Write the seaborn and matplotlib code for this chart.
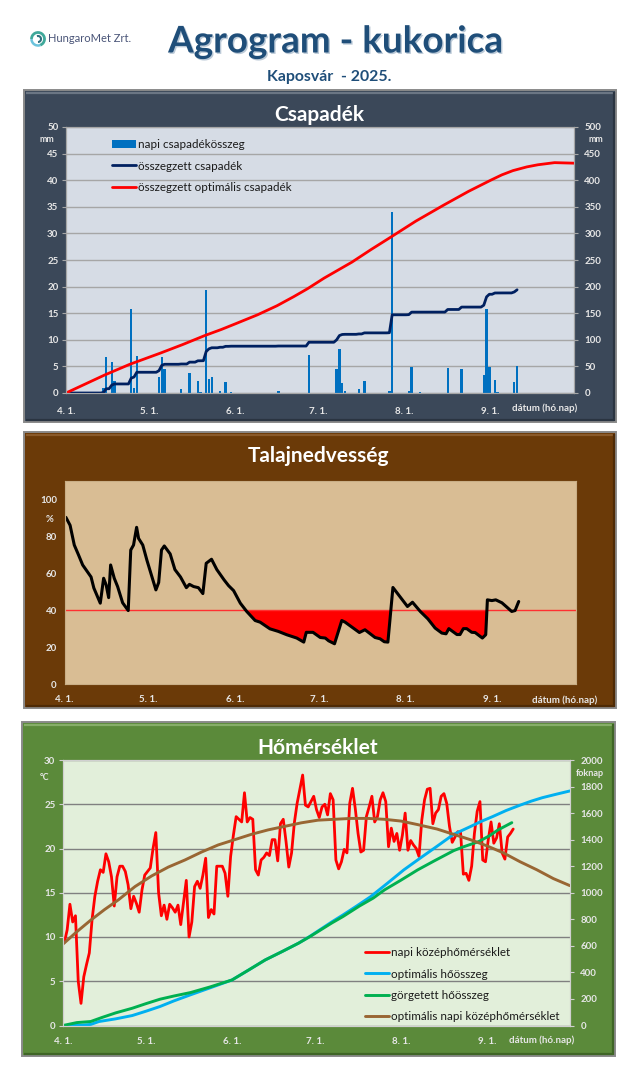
"""Agrogram dashboard: rainfall, soil moisture and temperature panels."""

import numpy as np
import pandas as pd
import matplotlib
matplotlib.use("Agg")
import matplotlib.pyplot as plt
import matplotlib.patheffects as pe
from matplotlib.patches import Rectangle, Arc
import seaborn as sns

# days counted from April 1
month_days = [0, 30, 61, 91, 122, 153, 183]
month_labels = ["4. 1.", "5. 1.", "6. 1.", "7. 1.", "8. 1.", "9. 1.", ""]
last_day = 163

rain_days = [13, 14, 16, 17, 23, 24, 25, 33, 34, 35, 41, 44, 47, 48, 50, 51, 52, 55, 57, 59, 76, 87,
             97, 98, 99, 100, 105, 107, 116, 117, 123, 124, 127, 137, 142, 150, 151, 152, 154, 155, 161, 162]
rain_values = [1.0, 6.8, 5.9, 2.2, 15.7, 1.0, 7.0, 3.0, 6.8, 4.5, 0.8, 3.8, 2.3, 0.2, 19.4, 2.6, 3.1, 0.3, 2.1, 0.2, 0.3, 7.1,
               4.5, 8.3, 1.9, 0.3, 0.8, 2.2, 0.3, 34.0, 0.3, 4.9, 0.1, 4.7, 4.5, 3.3, 15.7, 4.9, 2.5, 0.1, 2.0, 5.0]
rain_sum_values = [1, 8, 15, 17, 28, 30, 39, 42, 52, 54, 54.5, 58, 60.5, 60.7, 78, 83, 85, 86, 87.7, 88, 88.3, 95.4,
                   100, 108, 110, 110.3, 111, 113, 113.3, 147, 147.3, 152, 152.1, 157, 161.5, 165, 180.7, 185.6, 188, 188.1, 190, 194]

opt_rain_days = [0, 7, 14, 23, 34, 42, 50, 56, 61, 69, 76, 82, 87, 93, 99, 103, 110, 117, 126, 136, 145, 153, 157, 161, 166, 170, 173, 176, 183]
opt_rain_values = [0, 17, 34, 54, 75, 91, 108, 119.5, 130, 147, 164, 181, 196, 216, 234, 246, 270, 293, 323, 353, 379, 400, 410, 418, 425, 429, 431, 433, 432]

soil_days = [0, 1.5, 3, 4.5, 6, 9, 10, 12.3, 13.5, 14.4, 15.3, 16, 17.3, 18.5, 20.3, 22.3, 23.2, 24.2, 25.3, 26,
             27.5, 29, 32.2, 33.2, 34.2, 35.2, 37.3, 39, 41, 43.1, 44.2, 45.7, 47.4, 49, 50.2, 52.1, 54, 56.6, 58.2, 60,
             62.4, 64.7, 67.7, 69.5, 73, 76, 79, 82.6, 85.1, 86, 88.4, 91, 92.8, 94, 96.1, 98.7, 99.9, 105, 107, 110.6,
             112.4, 113.9, 115.2, 117, 122.2, 124, 126.8, 129.5, 132.1, 134.5, 136, 137, 139.9, 141, 142.2, 143.4, 145.2, 146.4, 149, 150.2,
             150.8, 152.4, 153.8, 156, 157.8, 159.5, 160.7, 162]
soil_values = [90.3, 86, 75.3, 70, 64.5, 58, 52, 43.8, 57.3, 53.7, 46.8, 64.5, 57.3, 52.8, 44, 39.8, 72.6, 75.3, 84.9, 78.9,
               75.3, 67, 51, 55, 72.6, 74.8, 70.5, 62, 58, 52.2, 54, 52.8, 52.2, 49, 65.4, 67.6, 62, 56.4, 53.3, 50.6,
               43.8, 39.3, 34.4, 33.5, 29.9, 28.5, 26.7, 24.9, 22.7, 28, 28, 25.2, 24.9, 23.4, 21.8, 34.4, 33.5, 27.9, 29.4, 25.2,
               24.5, 22.9, 22.7, 52.3, 42, 44.3, 39.3, 35.3, 30.3, 27.6, 27.2, 30, 26.8, 26.8, 30, 30, 28, 27.9, 24.9, 26.7,
               45.6, 45.2, 45.6, 44, 41.6, 39.3, 39.8, 44.7]
soil_limit = 40

# daily mean temperature, one value per day from April 1
temp_values = [9.4, 10.8, 13.7, 11.7, 12.4, 5, 2.5, 5.5, 6.9, 8.2, 12, 14.6, 16.3, 17.6, 17.3, 19.4, 18.5, 16.8, 13.5, 16.8,
               18, 18, 17.4, 15.9, 13.2, 14.6, 13.8, 12.8, 15.3, 17, 17.4, 17.8, 20, 21.8, 15, 12.4, 13.6, 12, 13.7, 13.3,
               12.8, 13.6, 11.4, 13.9, 16.4, 10, 11.7, 15.7, 16.3, 15.5, 17, 18.9, 12.2, 13.1, 12.6, 18, 18, 18, 17.2, 14.6,
               19.1, 21.5, 23.6, 23.3, 23, 26.3, 23, 23.5, 23.3, 17.6, 17, 18.7, 19, 19.5, 19.2, 21, 21, 18.6, 22.8, 23.3,
               20.8, 17.9, 19.5, 22.9, 25.1, 26.7, 28.3, 24.9, 24.7, 25.3, 25.9, 24.4, 23.5, 24.7, 25, 23.8, 26.2, 25.5, 18.7, 17.7,
               18.5, 19.9, 19.5, 25.1, 26.8, 24.5, 21.7, 19.6, 19.8, 23.6, 24.7, 25.9, 23, 23.6, 25.5, 26.3, 25.3, 20.2, 22.3, 20.8,
               21.7, 19.8, 21.5, 24, 19.8, 20.9, 20.4, 20, 19.1, 23.2, 25.5, 26.7, 26.8, 22.8, 24, 24.4, 25.9, 26.2, 25.1, 22.5,
               20.7, 21.3, 21.9, 21.8, 17.1, 17.2, 16.4, 18, 21.7, 24.2, 25.3, 18.7, 18.5, 21, 23, 20.6, 21.2, 22.8, 19.5, 18.8,
               21.3, 21.7, 22.2]

opt_temp_days = [0, 5, 10, 15, 20, 26, 32, 38, 44, 50, 56, 62, 68, 74, 80, 86, 92, 98, 104, 110, 116, 122, 128, 135, 141, 147, 153, 159, 165, 171, 177, 183]
opt_temp_values = [9.2, 10.6, 11.9, 13.1, 14.2, 15.7, 16.9, 17.9, 18.7, 19.6, 20.4, 21, 21.6, 22.1, 22.5, 22.9, 23.2, 23.3, 23.4, 23.4, 23.3, 23.1, 22.7, 22.2, 21.6, 21, 20.3, 19.5, 18.5, 17.6, 16.6, 15.8]

opt_gdd_days = [0, 7, 10, 13, 19, 25, 30, 35, 40, 46, 53, 61, 67, 73, 79, 85, 89, 93, 97, 101, 106, 111, 117, 123, 129, 135, 141, 147, 151, 155, 160, 165, 169, 173, 178, 183]
opt_gdd_values = [0, 3, 8, 30, 50, 75, 108, 143, 185, 231, 283, 343, 418, 494, 556, 620, 670, 725, 780, 832, 900, 970, 1070, 1172, 1262, 1350, 1440, 1498, 1538, 1573, 1620, 1660, 1690, 1716, 1742, 1767]
sum_gdd_days = [0, 5, 10, 14, 19, 25, 30, 35, 40, 46, 53, 61, 67, 73, 79, 85, 89, 93, 97, 101, 107, 112, 116, 122, 128, 134, 141, 144, 150, 154, 157, 162]
sum_gdd_values = [0, 22, 30, 60, 95, 130, 165, 198, 222, 248, 290, 343, 418, 494, 556, 620, 668, 720, 772, 820, 900, 960, 1021, 1095, 1172, 1240, 1317, 1342, 1385, 1430, 1473, 1528]

WIDTH, HEIGHT = 640, 1077
FONT = "Lato"
TITLE_BLUE = "#1F4E79"
TICK_TEXT = "#E6E6E6"

sns.set_theme(style="white")
plt.rcParams["font.family"] = [FONT, "DejaVu Sans"]

fig = plt.figure(figsize=(WIDTH / 100, HEIGHT / 100), dpi=100, facecolor="white")

# overlay in pixel coordinates for the panel frames and headings
page = fig.add_axes([0, 0, 1, 1], zorder=-1)
page.set_xlim(0, WIDTH)
page.set_ylim(HEIGHT, 0)
page.axis("off")


def px_axes(left, top, right, bottom):
    return fig.add_axes([left / WIDTH, 1 - bottom / HEIGHT, (right - left) / WIDTH, (bottom - top) / HEIGHT])


def panel_frame(left, top, right, bottom, color, light, dark, title, title_y):
    page.add_patch(Rectangle((left, top), right - left, bottom - top, facecolor=color, edgecolor="#8A8A8A", lw=1.4))
    # bevel along the inner edge
    page.plot([left + 2, right - 2], [top + 3, top + 3], color=light, lw=1.6, solid_capstyle="butt")
    page.plot([right - 2, right - 2], [top + 2, bottom - 1], color=dark, lw=1.6, solid_capstyle="butt")
    page.plot([left + 2, right - 2], [bottom - 2, bottom - 2], color=dark, lw=1.6, solid_capstyle="butt")
    page.text((left + right) / 2 - 1, title_y, title, color="white", fontsize=15, fontweight="bold",
              ha="center", va="center")


def style_axes(ax, face, line_color, grid_color=None, y_pad=2.5):
    ax.set_facecolor(face)
    ax.set_xlim(0, 183)
    ax.set_xticks(month_days, month_labels)
    ax.set_xlabel("")
    ax.set_ylabel("")
    ax.tick_params(axis="both", length=3, width=0.8, color=line_color, labelcolor=TICK_TEXT, labelsize=7.0)
    ax.tick_params(axis="y", pad=y_pad)
    for label in ax.get_xticklabels() + ax.get_yticklabels():
        label.set_fontweight("bold")
    for spine in ax.spines.values():
        spine.set_color(line_color)
        spine.set_linewidth(0.8)
    if grid_color:
        ax.yaxis.grid(True, color=grid_color, lw=1.0)
        ax.set_axisbelow(True)


def note(x, y, text, size=6.8):
    page.text(x, y, text, color=TICK_TEXT, fontsize=size, fontweight="bold", ha="center", va="center")


def combined_legend(target, axes, x, y):
    handles, labels = [], []
    for one in axes:
        h, l = one.get_legend_handles_labels()
        handles += h
        labels += l
    target.legend(handles, labels, loc="upper left", bbox_to_anchor=(x / WIDTH, 1 - y / HEIGHT),
                  bbox_transform=fig.transFigure, frameon=False, fontsize=8.4, labelcolor="#1A1A1A", borderpad=0,
                  borderaxespad=0, handlelength=2.05, handletextpad=0.2, labelspacing=0.9)


# ---- heading ----
title = page.text(335, 42, "Agrogram - kukorica", color=TITLE_BLUE, fontsize=26.5, fontweight="bold",
                  ha="center", va="center")
title.set_path_effects([pe.withSimplePatchShadow(offset=(1, -1), shadow_rgbFace="#9FB3C6", alpha=0.7)])
page.text(329, 77, "Kaposvár  - 2025.", color=TITLE_BLUE, fontsize=11.4, fontweight="bold", ha="center", va="center")
page.text(48, 39, "HungaroMet Zrt.", color="#4A5578", fontsize=8.0, ha="left", va="center")
page.add_patch(Arc((38, 39), 13, 13, theta1=180, theta2=70, color="#3FA89A", lw=2.0))
page.add_patch(Arc((38, 39), 13, 13, theta1=70, theta2=180, color="#6CC3DC", lw=1.8))
page.add_patch(Arc((38, 39), 6, 6, theta1=250, theta2=90, color="#2F6F7F", lw=1.5))

# ---- rainfall ----
panel_frame(24, 90, 616, 422, "#3B4859", "#6B7684", "#2A3441", "Csapadék", 115)
rain_ax = px_axes(66, 127, 574, 393)
rain_right = rain_ax.twinx()

days = np.arange(last_day)
rain_df = pd.DataFrame({"day": days + 0.5})
rain_df["rain"] = pd.Series(rain_values, index=rain_days).reindex(days, fill_value=0).values
running = pd.Series(rain_sum_values, index=rain_days).reindex(days).ffill().fillna(0)
rain_df["total"] = running.values

sns.barplot(data=rain_df, x="day", y="rain", native_scale=True, color="#0070C0", saturation=1, width=0.85,
            errorbar=None, ax=rain_ax, label="napi csapadékösszeg", linewidth=0)
sns.lineplot(data=rain_df, x="day", y="total", color="#002060", lw=2.0, estimator=None, ax=rain_right,
             label="összegzett csapadék")
sns.lineplot(x=opt_rain_days, y=opt_rain_values, color="#FF0000", lw=2.0, estimator=None, ax=rain_right,
             label="összegzett optimális csapadék")

rain_ax.set_ylim(0, 50)
rain_ax.set_yticks(range(0, 51, 5))
rain_right.set_ylim(0, 500)
rain_right.set_yticks(range(0, 501, 50))
style_axes(rain_ax, "#D6DCE5", "#A6A6A6", "#A6A6A6")
style_axes(rain_right, "#D6DCE5", "#A6A6A6", y_pad=4.5)
rain_ax.tick_params(axis="x", pad=7)
rain_right.tick_params(axis="x", pad=7)

combined_legend(rain_right, [rain_ax, rain_right], 112, 139)
if rain_ax.get_legend():
    rain_ax.get_legend().remove()
note(47, 140, "mm", 6.4)
note(596, 140, "mm", 6.4)
note(545, 408, "dátum (hó.nap)", 7.1)

# ---- soil moisture ----
panel_frame(24, 432, 616, 708, "#6B3A08", "#8A5A2A", "#4E2A05", "Talajnedvesség", 456)
soil_ax = px_axes(64.5, 481, 576, 684)
soil_x = np.array(soil_days) + 0.5
soil_y = np.array(soil_values)
soil_ax.fill_between(soil_x, soil_y, soil_limit, where=soil_y < soil_limit, interpolate=True, color="#FF0000", lw=0)
soil_ax.axhline(soil_limit, color="#FF3030", lw=1.0)
sns.lineplot(x=soil_x, y=soil_y, color="black", lw=2.2, estimator=None, ax=soil_ax)
soil_ax.set_ylim(0, 110)
soil_ax.set_yticks(range(0, 101, 20))
style_axes(soil_ax, "#D9BD94", "#C9AE86")
soil_ax.tick_params(axis="x", pad=5)
note(49, 519, "%")
note(565, 700, "dátum (hó.nap)", 7.1)

# ---- temperature ----
panel_frame(22, 722, 615, 1056, "#5B8A3A", "#86AE68", "#3F6526", "Hőmérséklet", 748)
temp_ax = px_axes(63, 760, 570, 1025.5)
temp_right = temp_ax.twinx()
temp_df = pd.DataFrame({"day": np.arange(len(temp_values)) + 0.5, "temp": temp_values})

sns.lineplot(data=temp_df, x="day", y="temp", color="#FF0000", lw=2.0, estimator=None, ax=temp_ax,
             label="napi középhőmérséklet")
sns.lineplot(x=opt_gdd_days, y=opt_gdd_values, color="#00B0F0", lw=2.1, estimator=None, ax=temp_right,
             label="optimális hőösszeg")
sns.lineplot(x=sum_gdd_days, y=sum_gdd_values, color="#00B050", lw=2.1, estimator=None, ax=temp_right,
             label="görgetett hőösszeg")
sns.lineplot(x=opt_temp_days, y=np.array(opt_temp_values) * 2000 / 30, color="#996633", lw=2.1,
             estimator=None, ax=temp_right, label="optimális napi középhőmérséklet")

temp_ax.set_ylim(0, 30)
temp_ax.set_yticks(range(0, 31, 5))
temp_right.set_ylim(0, 2000)
temp_right.set_yticks(range(0, 2001, 200))
style_axes(temp_ax, "#E2EFDA", "#D0D0D0", "#808080")
style_axes(temp_right, "#E2EFDA", "#D0D0D0", y_pad=4.5)
temp_ax.tick_params(axis="x", pad=5)
temp_right.tick_params(axis="x", pad=5)

combined_legend(temp_right, [temp_ax, temp_right], 365, 947)
temp_ax.get_legend().remove()
note(45, 777, "°C", 6.4)
note(590, 774, "foknap", 6.6)
note(542, 1040, "dátum (hó.nap)", 7.1)

fig.savefig("out.png", dpi=100)
